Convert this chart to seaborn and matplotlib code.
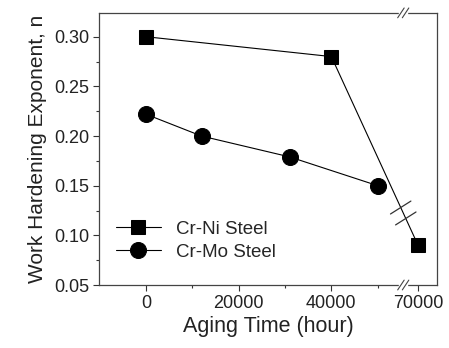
import numpy as np
import pandas as pd
import matplotlib
matplotlib.use("Agg")
import matplotlib.pyplot as plt
import seaborn as sns

# data
crni_time = [0, 40000, 70000]
crni_n = [0.300, 0.280, 0.090]
crmo_time = [0, 12000, 31000, 50000]
crmo_n = [0.222, 0.200, 0.179, 0.150]
xtick_vals = [0, 20000, 40000, 70000]
xtick_labels = ["0", "20000", "40000", "70000"]

# broken x axis: everything past the break is shifted left
BREAK_AT = 55500
SHIFT = 11300

def to_axis(t):
    t = np.asarray(t, dtype=float)
    return np.where(t > BREAK_AT, t - SHIFT, t)

df_ni = pd.DataFrame({"x": to_axis(crni_time), "n": crni_n})
df_mo = pd.DataFrame({"x": to_axis(crmo_time), "n": crmo_n})

sns.set_theme(style="ticks")
plt.rcParams['font.family'] = ['Liberation Sans', 'DejaVu Sans']

fig = plt.figure(figsize=(4.49, 3.48), dpi=100)
ax = fig.add_axes([0.2205, 0.181, 0.753, 0.782])

sns.lineplot(data=df_ni, x="x", y="n", ax=ax, sort=False, color="black", linewidth=0.8,
             marker="s", markersize=9.5, markeredgecolor="black", label="Cr-Ni Steel")
sns.lineplot(data=df_mo, x="x", y="n", ax=ax, sort=False, color="black", linewidth=0.8,
             marker="o", markersize=11.5, markeredgecolor="black", label="Cr-Mo Steel")

ax.set_xlim(-10100, 74100 - SHIFT)
ax.set_ylim(0.05, 0.324)

ax.set_xticks(to_axis(xtick_vals))
ax.set_xticklabels(xtick_labels)
ax.set_xticks(to_axis([10000, 30000, 50000]), minor=True)
ax.set_yticks([0.05, 0.10, 0.15, 0.20, 0.25, 0.30])
ax.set_yticklabels(["0.05", "0.10", "0.15", "0.20", "0.25", "0.30"])
ax.set_yticks([0.075, 0.125, 0.175, 0.225, 0.275], minor=True)

ax.tick_params(axis="both", which="major", direction="out", length=4, width=0.8,
               labelsize=13, colors="#333333", labelcolor="#222222", pad=3)
ax.tick_params(axis="both", which="minor", direction="out", length=2.5, width=0.8,
               colors="#333333")
for sp in ax.spines.values():
    sp.set_visible(True)
    sp.set_color("#444444")
    sp.set_linewidth(0.9)

ax.set_xlabel("Aging Time (hour)", fontsize=15.5, color="#222222", labelpad=3)
ax.set_ylabel("Work Hardening Exponent, n", fontsize=15, color="#222222", labelpad=5)

# break marks on top and bottom spines
bx = BREAK_AT
trans = ax.get_xaxis_transform()
for yb in (0.0, 1.0):
    ax.fill_between([bx - 900, bx + 900], yb - 0.02, yb + 0.02, color="white",
                    transform=trans, zorder=5, clip_on=False)
    for dx in (-500, 500):
        ax.plot([bx + dx - 700, bx + dx + 700], [yb - 0.018, yb + 0.018], color="#444444",
                linewidth=0.8, transform=trans, zorder=6, clip_on=False)

# break marks across the Cr-Ni segment
x0, x1 = to_axis(crni_time[1:])
y0, y1 = crni_n[1], crni_n[2]
yline = y0 + (y1 - y0) * (bx - x0) / (x1 - x0)
for s in (-1, 1):
    xc = bx + s * 550
    yc = yline - s * 0.0055
    ax.plot([xc - 2200, xc + 2200], [yc - 0.0065, yc + 0.0065], color="#333333",
            linewidth=0.9, zorder=6)

leg = ax.legend(loc="lower left", bbox_to_anchor=(0.0, 0.027), frameon=False, fontsize=13.5,
                handlelength=2.4, handletextpad=0.8, labelspacing=0.3)

fig.savefig("out.png", dpi=100)
